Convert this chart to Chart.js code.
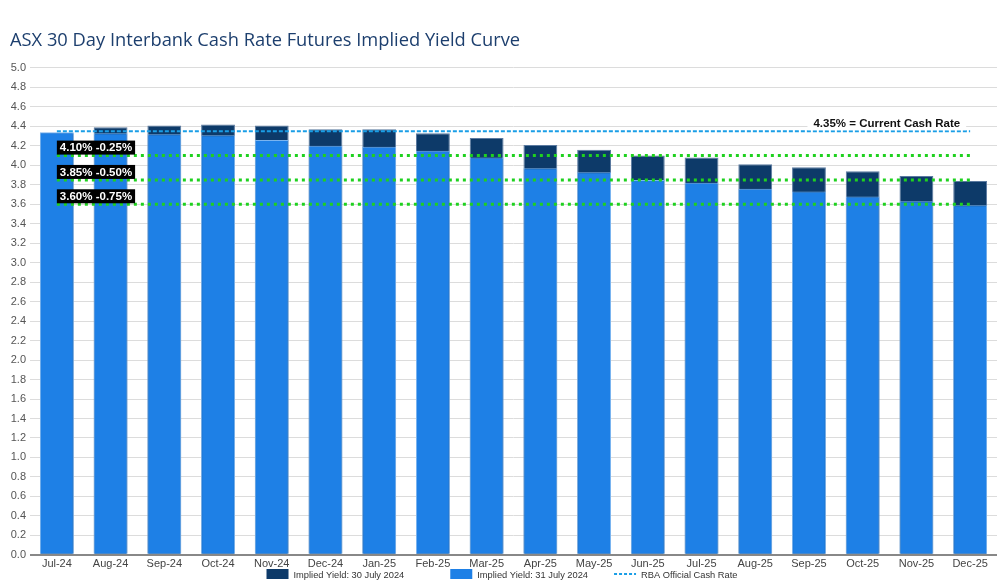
<!DOCTYPE html>
<html>
<head>
<meta charset="utf-8">
<script src="https://cdn.jsdelivr.net/npm/chart.js@4"></script>
<style>
  html, body { margin: 0; padding: 0; background: #fff; }
  #wrap { width: 1000px; height: 585px; }
</style>
</head>
<body>
<div id="wrap"><canvas id="curve"></canvas></div>
<script>
const months = ["Jul-24", "Aug-24", "Sep-24", "Oct-24", "Nov-24", "Dec-24", "Jan-25", "Feb-25", "Mar-25",
  "Apr-25", "May-25", "Jun-25", "Jul-25", "Aug-25", "Sep-25", "Oct-25", "Nov-25", "Dec-25"];
// implied yields
const yield30Jul = [4.33, 4.39, 4.41, 4.42, 4.41, 4.37, 4.37, 4.33, 4.28, 4.21, 4.16, 4.10, 4.08, 4.01, 3.98, 3.94, 3.89, 3.84];
const yield31Jul = [4.34, 4.33, 4.32, 4.31, 4.26, 4.20, 4.19, 4.15, 4.08, 3.97, 3.93, 3.85, 3.82, 3.76, 3.73, 3.68, 3.63, 3.59];
const cashRate = 4.35;
const cashLabel = "4.35% = Current Cash Rate";
const cutLevels = [4.10, 3.85, 3.60];
const cutLabels = ["4.10% -0.25%", "3.85% -0.50%", "3.60% -0.75%"];

const darkBlue = "#0d3a69";
const lightBlue = "#1e80e6";
const rbaBlue = "#1a9ee6";
const green = "#1fd11f";

const datasets = [
  {
    label: "Implied Yield: 30 July 2024",
    data: yield30Jul,
    backgroundColor: darkBlue,
    borderColor: "#5b7aa0",
    borderWidth: 1,
    order: 3,
  },
  {
    label: "Implied Yield: 31 July 2024",
    data: yield31Jul,
    backgroundColor: lightBlue,
    borderColor: "#7ab4f0",
    borderWidth: 1,
    order: 2,
  },
  {
    type: "line",
    label: "RBA Official Cash Rate",
    data: months.map(() => cashRate),
    borderColor: rbaBlue,
    borderWidth: 2,
    borderDash: [4, 2],
    pointRadius: 0,
    order: 1,
  },
];
cutLevels.forEach((lvl, i) => {
  datasets.push({
    type: "line",
    label: cutLabels[i],
    data: months.map(() => lvl),
    borderColor: green,
    borderWidth: 3,
    borderDash: [3, 4],
    pointRadius: 0,
    order: 0,
  });
});

//draws the black rate-cut tags and the cash rate note
const tagPlugin = {
  id: "tags",
  afterDatasetsDraw(chart) {
    const ctx = chart.ctx;
    const x = chart.scales.x;
    const y = chart.scales.y;
    const x0 = x.getPixelForValue(0);
    ctx.save();
    ctx.font = "bold 11.5px 'Liberation Sans', Arial, sans-serif";
    ctx.textBaseline = "middle";
    cutLevels.forEach((lvl, i) => {
      const yy = y.getPixelForValue(lvl);
      const w = ctx.measureText(cutLabels[i]).width + 6;
      ctx.fillStyle = "#000";
      ctx.fillRect(x0, yy - 15, w, 14);
      ctx.fillStyle = "#fff";
      ctx.fillText(cutLabels[i], x0 + 3, yy - 7.5);
    });
    // current cash rate note
    const xr = x.getPixelForValue(months.length - 1) - 10;
    const yc = y.getPixelForValue(cashRate) - 7;
    const tw = ctx.measureText(cashLabel).width;
    ctx.fillStyle = "#fff";
    ctx.fillRect(xr - tw - 6, yc - 6, tw + 12, 12);
    ctx.fillStyle = "#111";
    ctx.textAlign = "right";
    ctx.fillText(cashLabel, xr, yc);
    ctx.restore();
  },
};

//legend drawn by hand so the cash rate entry shows as a dashed line
const legendPlugin = {
  id: "bottomLegend",
  afterDraw(chart) {
    const ctx = chart.ctx;
    const yMid = 574;
    ctx.save();
    ctx.font = "9.3px 'Liberation Sans', Arial, sans-serif";
    ctx.textBaseline = "middle";
    const items = [
      { text: datasets[0].label, color: darkBlue, kind: "box", gap: 46 },
      { text: datasets[1].label, color: lightBlue, kind: "box", gap: 26 },
      { text: datasets[2].label, color: rbaBlue, kind: "dash", gap: 0 },
    ];
    let total = 0;
    items.forEach((it) => { total += 22 + 5 + ctx.measureText(it.text).width + it.gap; });
    let cx = 502 - total / 2;
    items.forEach((it) => {
      if (it.kind === "box") {
        ctx.fillStyle = it.color;
        ctx.fillRect(cx, yMid - 5, 22, 10);
      } else {
        ctx.strokeStyle = it.color;
        ctx.lineWidth = 2;
        ctx.setLineDash([3, 2]);
        ctx.beginPath();
        ctx.moveTo(cx, yMid);
        ctx.lineTo(cx + 22, yMid);
        ctx.stroke();
        ctx.setLineDash([]);
      }
      ctx.fillStyle = "#333";
      ctx.fillText(it.text, cx + 27, yMid + 1);
      cx += 27 + ctx.measureText(it.text).width + it.gap;
    });
    ctx.restore();
  },
};

new Chart(document.getElementById("curve"), {
  type: "bar",
  data: { labels: months, datasets: datasets },
  plugins: [tagPlugin, legendPlugin],
  options: {
    responsive: true,
    maintainAspectRatio: false,
    animation: false,
    layout: { padding: { left: 10, right: 3, top: 0, bottom: 11 } },
    datasets: {
      bar: { grouped: false, barPercentage: 0.63, categoryPercentage: 1 },
    },
    plugins: {
      legend: { display: false },
      tooltip: { enabled: false },
      title: {
        display: true,
        text: "ASX 30 Day Interbank Cash Rate Futures Implied Yield Curve",
        align: "start",
        color: "#1d3f6e",
        font: { family: "'Open Sans', sans-serif", size: 18.3, weight: "normal" },
        padding: { top: 30, bottom: 16 },
      },
    },
    scales: {
      x: {
        grid: { display: false, drawTicks: false },
        border: { display: false },
        ticks: {
          color: "#444",
          padding: 3,
          maxRotation: 0,
          font: { family: "'Liberation Sans', Arial, sans-serif", size: 11 },
        },
      },
      y: {
        min: 0,
        max: 5,
        border: { display: false },
        afterFit: (scale) => { scale.width = 20; },
        grid: {
          drawTicks: false,
          color: (c) => (c.tick && c.tick.value === 0 ? "#888" : "#dcdcdc"),
          lineWidth: (c) => (c.tick && c.tick.value === 0 ? 2 : 1),
        },
        ticks: {
          stepSize: 0.2,
          padding: 4,
          color: "#555",
          callback: (v) => v.toFixed(1),
          font: { family: "'Liberation Sans', Arial, sans-serif", size: 11 },
        },
      },
    },
  },
});
</script>
</body>
</html>
